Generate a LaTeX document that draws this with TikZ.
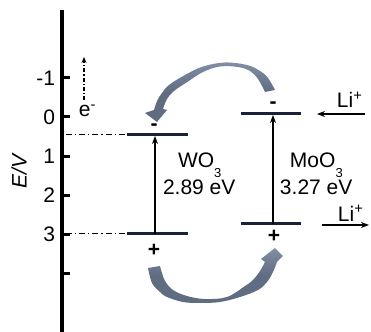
\documentclass[tikz,border=0pt]{standalone}
\usepackage{fontspec}
\setmainfont{Liberation Sans}
\usetikzlibrary{arrows.meta}
\definecolor{levelc}{RGB}{27,34,56}
\definecolor{curvec}{RGB}{96,108,130}
\definecolor{curvel}{RGB}{130,142,165}
\newcommand{\lowsub}[1]{\raisebox{-5pt}{\fontsize{6.5}{7}\selectfont #1}}
\begin{document}
\begin{tikzpicture}[x=0.5pt,y=-0.5pt,
  font=\fontsize{10.5}{12}\selectfont,
  lbl/.style={inner sep=0pt,outer sep=0pt},
  bandlevel/.style={line width=1.5pt,draw=levelc},
  gaparrow/.style={-{Stealth[length=4pt,width=3pt]},line width=0.65pt},
  ionarrow/.style={-{Stealth[length=4pt,width=3pt]},line width=0.6pt},
  guide/.style={line width=0.5pt,dash pattern=on 3pt off 1.5pt on 0.6pt off 1.5pt},
  curvy/.style={top color=curvel,bottom color=curvec,middle color=curvec}]
\useasboundingbox (0,0) rectangle (371,332);

% axis
\coordinate (axtop) at (62,10);
\coordinate (axbot) at (62,332);
\draw[line width=1.6pt] (axtop) -- (axbot);
\foreach \e/\t in {-1/-1,0/0,1/1,2/2,3/3,4/{}}{
  \pgfmathsetmacro{\yy}{117+39.2*\e}
  \coordinate (tk\e) at (62,\yy);
  \coordinate (tke\e) at (70,\yy);
  \draw[line width=1.5pt] (tk\e) -- (tke\e);
  \node[lbl,anchor=east] (tl\e) at (55,\yy) {\t};
}
\node[lbl,rotate=90] (ev) at (19,171) {\textit{E/V}};

% electron arrow
\coordinate (eb) at (84,100);
\coordinate (et) at (84,57);
\draw[-{Stealth[length=3pt,width=2.5pt]},line width=0.6pt,dash pattern=on 2pt off 1pt on 0.6pt off 1pt] (eb) -- (et);
\node[lbl,anchor=base west] (elab) at (79,117) {e\textsuperscript{-}};

% WO3 levels
\coordinate (wcbL) at (127,135); \coordinate (wcbR) at (188,135);
\coordinate (wvbL) at (127,234); \coordinate (wvbR) at (188,234);
\draw[bandlevel] (wcbL) -- (wcbR);
\draw[bandlevel] (wvbL) -- (wvbR);
\coordinate (g1s) at (66,135); \coordinate (g1e) at (125,135);
\coordinate (g2s) at (66,234); \coordinate (g2e) at (125,234);
\draw[guide] (g1s) -- (g1e);
\draw[guide] (g2s) -- (g2e);
\coordinate (wvbM) at (155,234); \coordinate (wcbM) at (155,136);
\draw[gaparrow] (wvbM) -- (wcbM);
\node[lbl] (wminus) at (154,127.5) {\textbf{-}};
\node[lbl] (wplus) at (154,250) {\textbf{+}};
\node[lbl,anchor=base west] (wname) at (178,168) {WO\lowsub{3}};
\node[lbl,anchor=base west] (wgap) at (163,195) {2.89 eV};

% MoO3 levels
\coordinate (mcbL) at (241,114); \coordinate (mcbR) at (301,114);
\coordinate (mvbL) at (241,224); \coordinate (mvbR) at (301,224);
\draw[bandlevel] (mcbL) -- (mcbR);
\draw[bandlevel] (mvbL) -- (mvbR);
\coordinate (mvbM) at (273,224); \coordinate (mcbM) at (273,115);
\draw[gaparrow] (mvbM) -- (mcbM);
\node[lbl] (mminus) at (273,105.5) {\textbf{-}};
\node[lbl] (mplus) at (274,236.5) {\textbf{+}};
\node[lbl,anchor=base west] (mname) at (290,168) {MoO\lowsub{3}};
\node[lbl,anchor=base west] (mgap) at (280,195) {3.27 eV};

% Li+ arrows
\coordinate (li1s) at (365,114); \coordinate (li1e) at (317,114);
\draw[ionarrow] (li1s) -- (li1e);
\node[lbl,anchor=base west] (li1) at (337,108) {Li\textsuperscript{+}};
\coordinate (li2s) at (322,225); \coordinate (li2e) at (369,225);
\draw[ionarrow] (li2s) -- (li2e);
\node[lbl,anchor=base west] (li2) at (338,221) {Li\textsuperscript{+}};

% upper curved arrow (MoO3 CB -> WO3 CB)
\path[curvy] plot[smooth,tension=0.6] coordinates {(275,90) (268,78) (260,71) (247,65) (225,62.5) (203,66.5) (185,75) (169,85) (162,93) (157,101) (154,110)}
  -- (145,113) -- (157,122) -- (167,110) -- (163,109)
  -- plot[smooth,tension=0.6] coordinates {(163,109) (167,99) (174,91) (188,81.5) (203,72) (220,66.5) (238,67) (250,71) (258,79) (265,92)}
  -- cycle;

% lower curved arrow (WO3 VB -> MoO3 VB)
\path[curvy] plot[smooth,tension=0.6] coordinates {(148,268) (152,283) (160,292) (167,297) (183,302) (200,303) (220,302) (240,297) (258,290) (267,282) (273,272) (277,262)}
  -- (283,256) -- (275,248) -- (261,259) -- (265,262)
  -- plot[smooth,tension=0.6] coordinates {(265,262) (260,271) (253,280) (245,286) (227,297) (205,299) (187,296) (173,290) (165,281) (162,273) (160,266)}
  -- cycle;
\end{tikzpicture}
\end{document}
